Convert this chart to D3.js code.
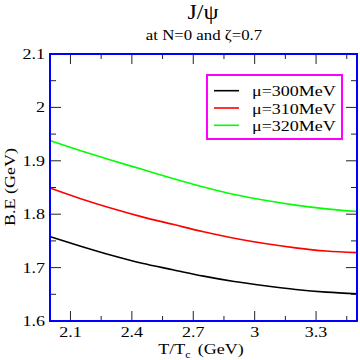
<!DOCTYPE html>
<html>
<head>
<meta charset="utf-8">
<script src="https://cdn.jsdelivr.net/npm/d3@7"></script>
<style>
  body { margin: 0; background: #fff; }
  svg text { font-family: "Liberation Serif", "DejaVu Serif", serif; fill: #000; }
</style>
</head>
<body>
<div id="chart"></div>
<script>
// data
const temps = [2.0, 2.15, 2.3, 2.45, 2.6, 2.75, 2.9, 3.05, 3.2, 3.35, 3.5];
const be300 = [1.758, 1.740, 1.723, 1.708, 1.696, 1.684, 1.674, 1.666, 1.659, 1.654, 1.651];
const be310 = [1.849, 1.829, 1.811, 1.795, 1.781, 1.767, 1.755, 1.745, 1.737, 1.731, 1.728];
const be320 = [1.938, 1.919, 1.901, 1.884, 1.867, 1.851, 1.837, 1.826, 1.817, 1.810, 1.805];
const seriesNames = ["μ=300MeV", "μ=310MeV", "μ=320MeV"];
const seriesColors = ["#000000", "#ff0000", "#00ff00"];
const xTicks = [2.1, 2.4, 2.7, 3.0, 3.3];
const xMinor = [2.25, 2.55, 2.85, 3.15, 3.45];
const yTicks = [1.6, 1.7, 1.8, 1.9, 2.0, 2.1];
const yMinor = [1.65, 1.75, 1.85, 1.95, 2.05];

const width = 360, height = 360;
const margin = { top: 54, right: 3, bottom: 39, left: 50 };
const sx = 1.2; // the picture's text is a bit wider than tall

const svg = d3.select("#chart").append("svg")
  .attr("width", width).attr("height", height);

const x = d3.scaleLinear().domain([2.0, 3.5]).range([margin.left, width - margin.right]);
const y = d3.scaleLinear().domain([1.6, 2.1]).range([height - margin.bottom, margin.top]);

// stretched text helper
function label(g, tx, ty, txt, size, anchor) {
  return g.append("g")
    .attr("transform", `translate(${tx},${ty}) scale(${sx},1)`)
    .append("text")
    .attr("font-size", size)
    .attr("text-anchor", anchor || "middle")
    .text(txt);
}

// ticks (inward, on all four sides)
const ticks = svg.append("g").attr("stroke", "#222").attr("stroke-width", 1);
const x0 = x.range()[0], x1 = x.range()[1], y0 = y.range()[0], y1 = y.range()[1];
function vTicks(vals, len) {
  vals.forEach((v) => {
    ticks.append("line").attr("x1", x(v)).attr("x2", x(v)).attr("y1", y0).attr("y2", y0 - len);
    ticks.append("line").attr("x1", x(v)).attr("x2", x(v)).attr("y1", y1).attr("y2", y1 + len);
  });
}
function hTicks(vals, len) {
  vals.forEach((v) => {
    ticks.append("line").attr("y1", y(v)).attr("y2", y(v)).attr("x1", x0).attr("x2", x0 + len);
    ticks.append("line").attr("y1", y(v)).attr("y2", y(v)).attr("x1", x1).attr("x2", x1 - len);
  });
}
vTicks(xTicks, 10);
vTicks(xMinor, 5);
hTicks(yTicks, 11);
hTicks(yMinor, 6);

// tick labels
const fmt = d3.format("~g");
xTicks.forEach((v) => label(svg, x(v), y0 + 16, fmt(v), 15));
yTicks.forEach((v) => label(svg, x0 - 5, y(v) + 5, fmt(v), 15, "end"));

// lines
const line = d3.line()
  .x((d, i) => x(temps[i]))
  .y((d) => y(d))
  .curve(d3.curveMonotoneX);

[be300, be310, be320].forEach((s, k) => {
  svg.append("path")
    .datum(s)
    .attr("d", line)
    .attr("fill", "none")
    .attr("stroke", seriesColors[k])
    .attr("stroke-width", 1.6);
});

// frame
svg.append("rect")
  .attr("x", x0).attr("y", y1)
  .attr("width", x1 - x0).attr("height", y0 - y1)
  .attr("fill", "none")
  .attr("stroke", "#0000ff")
  .attr("stroke-width", 2);

// legend
const legend = svg.append("g");
legend.append("rect")
  .attr("x", 207).attr("y", 75)
  .attr("width", 135).attr("height", 64)
  .attr("fill", "#fff")
  .attr("stroke", "#ff00ff")
  .attr("stroke-width", 2);
seriesNames.forEach((name, i) => {
  const ry = 90.7 + i * 17.3;
  legend.append("line")
    .attr("x1", 214).attr("x2", 239)
    .attr("y1", ry).attr("y2", ry)
    .attr("stroke", seriesColors[i])
    .attr("stroke-width", 1.6);
  label(legend, 252, ry + 5.5, name, 15, "start");
});

// titles
label(svg, 203, 19, "J/ψ", 20);
label(svg, 204, 40, "at N=0 and ζ=0.7", 14);

// axis labels
const xl = svg.append("g").attr("transform", `translate(201,354) scale(${sx},1)`)
  .append("text").attr("font-size", 15).attr("text-anchor", "middle");
xl.append("tspan").text("T/T");
xl.append("tspan").attr("font-size", 10).attr("dy", 4).text("c");
xl.append("tspan").attr("dy", -4).attr("dx", 6).text("(GeV)");

svg.append("g").attr("transform", `translate(15,187) rotate(-90) scale(${sx},1)`)
  .append("text").attr("font-size", 15).attr("text-anchor", "middle")
  .text("B.E (GeV)");
</script>
</body>
</html>
